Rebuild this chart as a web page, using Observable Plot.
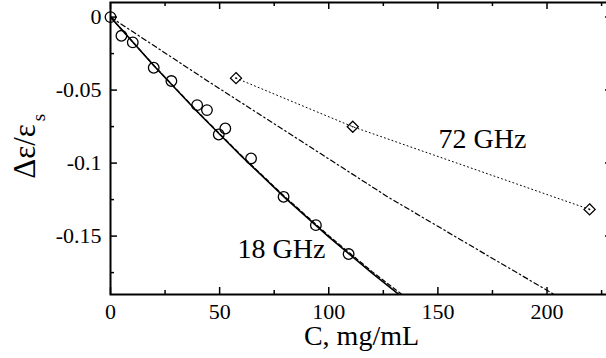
<!DOCTYPE html>
<html><head><meta charset="utf-8">
<script src="https://cdn.jsdelivr.net/npm/d3@7"></script>
<script src="https://cdn.jsdelivr.net/npm/@observablehq/plot@0.6"></script>
<style>
html,body{margin:0;padding:0;background:#fff;overflow:hidden}
#chart{width:606px;height:358px;overflow:hidden;position:relative}
</style></head><body><div id="chart"></div>
<script>
// 18 GHz measured points (circles)
const conc18 = [0, 5, 10.2, 19.8, 27.9, 39.7, 44.2, 49.6, 52.6, 64.4, 79.3, 94.1, 109.1];
const deps18 = [0, -0.0128, -0.0173, -0.0347, -0.0438, -0.0603, -0.0637, -0.0804, -0.0763, -0.0968, -0.1231, -0.1425, -0.1623];
// 72 GHz measured points (diamonds)
const conc72 = [57.5, 111, 219.5];
const deps72 = [-0.0418, -0.0751, -0.1317];
// 18 GHz solid curve
const solidC = [0, 20, 40, 60, 80, 100, 120, 133];
const solidE = [0, -0.0335, -0.0652, -0.0953, -0.1238, -0.1505, -0.1756, -0.191];
// 18 GHz dashed curve
const dashC = [0, 20, 40, 60, 80, 100, 120, 134];
const dashE = [0, -0.0333, -0.0649, -0.0948, -0.1232, -0.1497, -0.1745, -0.1905];
// dash-dot curve
const ddC = [0, 46, 90, 127, 165, 205];
const ddE = [0, -0.0452, -0.0875, -0.1231, -0.1565, -0.1915];
// tick values
const xMajor = [0, 50, 100, 150, 200];
const xMinor = [25, 75, 125, 175, 225];
const yMajor = [0, -0.05, -0.1, -0.15];
const yMinor = [-0.025, -0.075, -0.125, -0.175];
// annotation labels
const labelText = ["18 GHz", "72 GHz"];
const labelC = [78.3, 170.4];
const labelE = [-0.159, -0.0832];

const W = 614, H = 358, mL = 110, mR = 2, mT = 2, mB = 64;
const innerW = W - mL - mR, innerH = H - mT - mB;
const toRows = (xs, ys) => xs.map((x, i) => ({x, y: ys[i]}));
const pts18 = toRows(conc18, deps18);
const pts72 = toRows(conc72, deps72);
const labels = labelText.map((t, i) => ({t, x: labelC[i], y: labelE[i]}));
const font = "Liberation Serif";
const fmt = d => d === 0 ? "0" : String(d);

const chart = Plot.plot({
  width: W, height: H,
  marginLeft: mL, marginRight: mR, marginTop: mT, marginBottom: mB,
  x: {domain: [0, 230]},
  y: {domain: [-0.19, 0.01]},
  style: {fontFamily: font, color: "black", background: "white", maxWidth: "none", overflow: "visible"},
  marks: [
    Plot.line(toRows(ddC, ddE), {x: "x", y: "y", stroke: "black", strokeWidth: 1.2, strokeDasharray: "5,3,1.5,3", clip: true}),
    Plot.line(pts72, {x: "x", y: "y", stroke: "black", strokeWidth: 1, strokeDasharray: "1,3"}),
    Plot.line(toRows(dashC, dashE), {x: "x", y: "y", stroke: "black", strokeWidth: 1.2, strokeDasharray: "4,3", clip: true}),
    Plot.line(toRows(solidC, solidE), {x: "x", y: "y", stroke: "black", strokeWidth: 1.6, clip: true}),
    Plot.dot(pts18, {x: "x", y: "y", r: 5.3, stroke: "black", strokeWidth: 1.3, fill: "none"}),
    Plot.dot(pts72, {x: "x", y: "y", r: 5, symbol: "diamond2", stroke: "black", strokeWidth: 1.3, fill: "none"}),
    Plot.dot(pts72, {x: "x", y: "y", r: 0.8, fill: "black"}),
    // ticks (inward)
    Plot.ruleX(xMajor, {stroke: "black", strokeWidth: 1.5, insetTop: innerH - 7}),
    Plot.ruleX(xMajor, {stroke: "black", strokeWidth: 1.5, insetBottom: innerH - 7}),
    Plot.ruleX(xMinor, {stroke: "black", strokeWidth: 1.5, insetTop: innerH - 4}),
    Plot.ruleX(xMinor, {stroke: "black", strokeWidth: 1.5, insetBottom: innerH - 4}),
    Plot.ruleY(yMajor, {stroke: "black", strokeWidth: 1.5, insetRight: innerW - 7}),
    Plot.ruleY(yMajor, {stroke: "black", strokeWidth: 1.5, insetLeft: innerW - 7}),
    Plot.ruleY(yMinor, {stroke: "black", strokeWidth: 1.5, insetRight: innerW - 4}),
    Plot.ruleY(yMinor, {stroke: "black", strokeWidth: 1.5, insetLeft: innerW - 4}),
    Plot.frame({stroke: "black", strokeWidth: 2}),
    Plot.axisX({anchor: "bottom", ticks: xMajor, tickSize: 0, tickPadding: 9, tickFormat: fmt, fontSize: 22, fontFamily: font, fontVariant: "normal", label: null, fill: "black"}),
    Plot.axisY({anchor: "left", ticks: yMajor, tickSize: 0, tickPadding: 9, tickFormat: fmt, fontSize: 22, fontFamily: font, fontVariant: "normal", label: null, fill: "black"}),
    Plot.text(["C, mg/mL"], {frameAnchor: "bottom", lineAnchor: "middle", textAnchor: "middle", dy: 42, fontSize: 28, fontFamily: font, fill: "black"}),
    Plot.text(["Δε/ε"], {frameAnchor: "left", lineAnchor: "middle", textAnchor: "middle", dx: -85, dy: 3, rotate: -90, fontSize: 31, fontFamily: font, fill: "black"}),
    Plot.text(["s"], {frameAnchor: "left", lineAnchor: "middle", textAnchor: "middle", dx: -72, dy: -31, rotate: -90, fontSize: 19, fontFamily: font, fill: "black"}),
    Plot.text(labels, {x: "x", y: "y", text: "t", fontSize: 28, fontFamily: font, fill: "black"})
  ]
});
document.getElementById("chart").appendChild(chart);
</script></body></html>
